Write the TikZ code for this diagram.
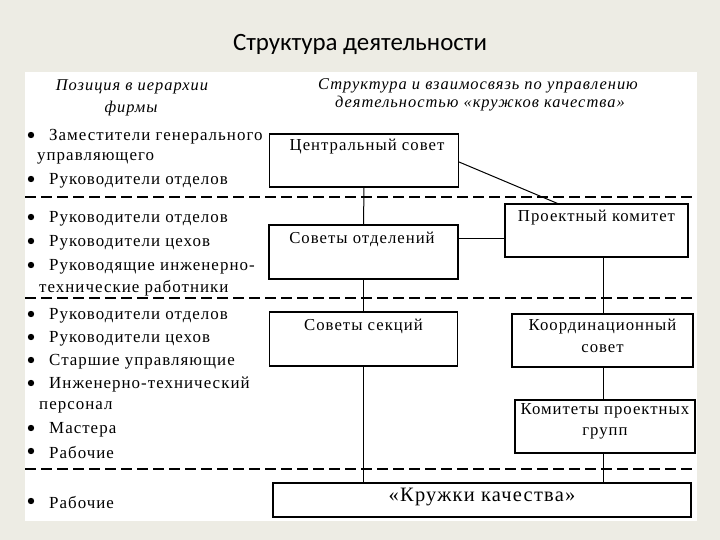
\documentclass[tikz,border=0pt]{standalone}
\usepackage{fontspec}
\setmainfont{Liberation Serif}
\newfontfamily\ttlfont{Carlito}
\newfontfamily\spfont[LetterSpace=6]{Liberation Serif}
\newfontfamily\hdfont[LetterSpace=6]{Liberation Serif}
\definecolor{bgc}{HTML}{EDECE4}
\tikzset{
  box/.style={draw=black, line width=1.1bp, rectangle, inner sep=0pt},
  lt/.style={anchor=west, inner sep=0pt, font=\fontsize{17}{18}\selectfont\spfont},
  bt/.style={inner sep=0pt, font=\fontsize{16.8}{18}\selectfont\spfont},
  hd/.style={inner sep=0pt, font=\fontsize{16.5}{18}\selectfont\itshape\hdfont},
  dl/.style={line width=1.1bp, dash pattern=on 11bp off 5bp},
  cn/.style={line width=1bp},
}
\newcommand{\bul}[1]{\fill (31,#1) circle (3.2bp);}
\begin{document}
\begin{tikzpicture}[x=1bp,y=-1bp]
\useasboundingbox (0,0) rectangle (720,540);
\fill[bgc] (0,0) rectangle (720,540);
\fill[white] (25,72) rectangle (697,521);
\node[inner sep=0pt, font=\fontsize{25}{27}\selectfont\ttlfont] (title) at (360,44) {Структура деятельности};

% headers
\node[hd] (h1a) at (132,87) {Позиция в иерархии};
\node[hd] (h1b) at (131,109) {фирмы};
\node[hd] (h2a) at (478,86) {Структура и взаимосвязь по управлению};
\node[hd] (h2b) at (480,104) {деятельностью «кружков качества»};

% dashed separators
\draw[dl] (25,197) -- (696,197);
\draw[dl] (25,298) -- (696,298);
\draw[dl] (25,469) -- (696,469);

% left column
\bul{135}\node[lt] (l1) at (49,137) {Заместители генерального};
\node[lt] (l2) at (37,158) {управляющего};
\bul{179}\node[lt] (l3) at (49,181) {Руководители отделов};

\bul{217}\node[lt] (l4) at (49,219) {Руководители отделов};
\bul{241}\node[lt] (l5) at (49,243) {Руководители цехов};
\bul{265}\node[lt] (l6) at (49,267) {Руководящие инженерно-};
\node[lt] (l7) at (39,288) {технические работники};

\bul{314}\node[lt] (l8) at (49,316) {Руководители отделов};
\bul{337}\node[lt] (l9) at (49,339) {Руководители цехов};
\bul{360}\node[lt] (l10) at (49,362) {Старшие управляющие};
\bul{383}\node[lt] (l11) at (49,385) {Инженерно-технический};
\node[lt] (l12) at (39,407) {персонал};
\bul{428}\node[lt] (l13) at (49,430) {Мастера};
\bul{451}\node[lt] (l14) at (49,453) {Рабочие};

\bul{501}\node[lt] (l15) at (49,503) {Рабочие};

% boxes
\node[box, minimum width=189bp, minimum height=53bp] (c) at (364,160.5) {};
\node[bt] (ct) at (367,147) {Центральный совет};
\node[box, minimum width=183bp, minimum height=53bp] (pk) at (596.5,230.5) {};
\node[bt] (pkt) at (596.5,218) {Проектный комитет};
\node[box, minimum width=189bp, minimum height=54bp] (so) at (363.5,252) {};
\node[bt] (sot) at (362,239) {Советы отделений};
\node[box, minimum width=188bp, minimum height=54bp] (ss) at (363.5,339) {};
\node[bt] (sst) at (363.5,326) {Советы секций};
\node[box, minimum width=181bp, minimum height=53bp] (ks) at (602.5,340.5) {};
\node[bt] (kst1) at (602.5,327) {Координационный};
\node[bt] (kst2) at (602.5,349) {совет};
\node[box, minimum width=180bp, minimum height=53bp] (kpg) at (605,426.5) {};
\node[bt] (kpgt1) at (605,411) {Комитеты проектных};
\node[bt] (kpgt2) at (605,433) {групп};
\node[box, minimum width=418bp, minimum height=34bp] (kk) at (482,500) {};
\node[inner sep=0pt, font=\fontsize{20.5}{22}\selectfont\spfont] (kkt) at (482,497) {«Кружки качества»};

% connectors
\coordinate (rx) at (603.5,0);
\draw[cn] (c.south) -- (so.north);
\draw[cn] (so.south) -- (ss.north);
\draw[cn] (ss.south) -- (ss.south |- kk.north);
\draw[cn] (pk.south -| rx) -- (ks.north -| rx);
\draw[cn] (ks.south -| rx) -- (kpg.north -| rx);
\draw[cn] (kpg.south -| rx) -- (kk.north -| rx);
\draw[cn] ([yshift=-1.5bp]c.east) -- ([xshift=-39bp]pk.north);
\draw[cn] ([yshift=13bp]so.east) coordinate (h) -- (h -| pk.west);
\end{tikzpicture}
\end{document}
